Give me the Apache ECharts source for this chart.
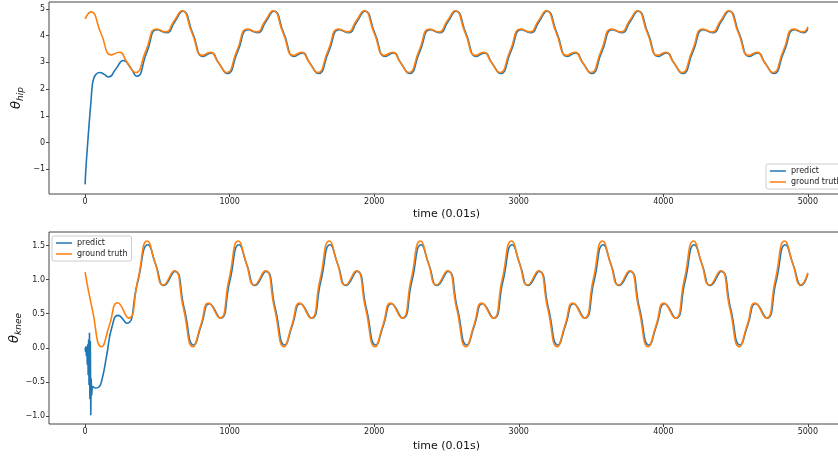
<!DOCTYPE html>
<html><head><meta charset="utf-8">
<script src="https://cdn.jsdelivr.net/npm/echarts@6/dist/echarts.min.js"></script>
<style>html,body{margin:0;padding:0;background:#fff}#c{width:838px;height:457px}</style>
</head><body><div id="c"></div>
<script>
// ---- tick labels ----
const xTicks = [0, 1000, 2000, 3000, 4000, 5000];
const hipTicks = [-1, 0, 1, 2, 3, 4, 5];
const kneeTicks = [-1.0, -0.5, 0.0, 0.5, 1.0, 1.5];
const seriesNames = ['predict', 'ground truth'];

// ---- hip angle (top panel) ----
const hipPredict = [
 [0,-1.57],[5,-1.0],[18,0],[32,1.0],[40,1.5],[47,2.0],[57,2.35],[75,2.55],[100,2.62],[130,2.56],[163,2.45],[212,2.75],[265,3.07],[312,2.82],[357,2.48],[427,3.38],[499,4.22],[561,4.11],[620,4.52],
 [675,4.92],[745,4.08],[818,3.22],[871,3.35],[925,2.97],[984,2.58],[1055,3.4],[1129,4.22],[1191,4.11],[1250,4.52],
 [1305,4.92],[1375,4.08],[1448,3.22],[1501,3.35],[1555,2.97],[1614,2.58],[1685,3.4],[1759,4.22],[1821,4.11],[1880,4.52],
 [1935,4.92],[2005,4.08],[2078,3.22],[2131,3.35],[2185,2.97],[2244,2.58],[2315,3.4],[2389,4.22],[2451,4.11],[2510,4.52],
 [2565,4.92],[2635,4.08],[2708,3.22],[2761,3.35],[2815,2.97],[2874,2.58],[2945,3.4],[3019,4.22],[3081,4.11],[3140,4.52],
 [3195,4.92],[3265,4.08],[3338,3.22],[3391,3.35],[3445,2.97],[3504,2.58],[3575,3.4],[3649,4.22],[3711,4.11],[3770,4.52],
 [3825,4.92],[3895,4.08],[3968,3.22],[4021,3.35],[4075,2.97],[4134,2.58],[4205,3.4],[4279,4.22],[4341,4.11],[4400,4.52],
 [4455,4.92],[4525,4.08],[4598,3.22],[4651,3.35],[4705,2.97],[4764,2.58],[4835,3.4],[4909,4.22],[4971,4.11],[5000,4.28]
];
const hipTruth = [
 [0,4.63],[40,4.89],[110,4.08],[183,3.28],[236,3.38],[290,3.0],[349,2.62],[420,3.43],[494,4.25],[556,4.14],[615,4.55],
 [670,4.93],[740,4.09],[813,3.26],[866,3.38],[920,3.0],[979,2.62],[1050,3.43],[1124,4.25],[1186,4.14],[1245,4.55],
 [1300,4.93],[1370,4.09],[1443,3.26],[1496,3.38],[1550,3.0],[1609,2.62],[1680,3.43],[1754,4.25],[1816,4.14],[1875,4.55],
 [1930,4.93],[2000,4.09],[2073,3.26],[2126,3.38],[2180,3.0],[2239,2.62],[2310,3.43],[2384,4.25],[2446,4.14],[2505,4.55],
 [2560,4.93],[2630,4.09],[2703,3.26],[2756,3.38],[2810,3.0],[2869,2.62],[2940,3.43],[3014,4.25],[3076,4.14],[3135,4.55],
 [3190,4.93],[3260,4.09],[3333,3.26],[3386,3.38],[3440,3.0],[3499,2.62],[3570,3.43],[3644,4.25],[3706,4.14],[3765,4.55],
 [3820,4.93],[3890,4.09],[3963,3.26],[4016,3.38],[4070,3.0],[4129,2.62],[4200,3.43],[4274,4.25],[4336,4.14],[4395,4.55],
 [4450,4.93],[4520,4.09],[4593,3.26],[4646,3.38],[4700,3.0],[4759,2.62],[4830,3.43],[4904,4.25],[4966,4.14],[5000,4.33]
];

// ---- knee angle (bottom panel) ----
const kneePredictStart = [
 [0,0.0],[3,-0.06],[6,0.02],[9,-0.12],[12,-0.02],[15,-0.25],[18,0.05],[21,-0.4],[24,0.12],[27,-0.55],[30,0.22],[33,-0.75],[36,0.1],[39,-0.99],[42,-0.45],[45,-0.7],[50,-0.56]
];
const kneePredict = [
 [50,-0.56],[70,-0.59],[92,-0.58],[115,-0.48],[150,-0.1],[185,0.3],[228,0.475],[288,0.36],[362,0.95],
 [435,1.51],[490,1.21],[546,0.915],[620,1.12],[685,0.58],[751,0.04],[805,0.34],[860,0.645],[936,0.435],[1000,0.97],
 [1065,1.51],[1120,1.21],[1176,0.915],[1250,1.12],[1315,0.58],[1381,0.04],[1435,0.34],[1490,0.645],[1566,0.435],[1630,0.97],
 [1695,1.51],[1750,1.21],[1806,0.915],[1880,1.12],[1945,0.58],[2011,0.04],[2065,0.34],[2120,0.645],[2196,0.435],[2260,0.97],
 [2325,1.51],[2380,1.21],[2436,0.915],[2510,1.12],[2575,0.58],[2641,0.04],[2695,0.34],[2750,0.645],[2826,0.435],[2890,0.97],
 [2955,1.51],[3010,1.21],[3066,0.915],[3140,1.12],[3205,0.58],[3271,0.04],[3325,0.34],[3380,0.645],[3456,0.435],[3520,0.97],
 [3585,1.51],[3640,1.21],[3696,0.915],[3770,1.12],[3835,0.58],[3901,0.04],[3955,0.34],[4010,0.645],[4086,0.435],[4150,0.97],
 [4215,1.51],[4270,1.21],[4326,0.915],[4400,1.12],[4465,0.58],[4531,0.04],[4585,0.34],[4640,0.645],[4716,0.435],[4780,0.97],
 [4845,1.51],[4900,1.21],[4956,0.915],[5000,1.08]
];
const kneeTruth = [
 [0,1.11],[50,0.56],[114,0.015],[168,0.33],[225,0.66],[300,0.435],[365,1.0],
 [430,1.565],[485,1.24],[541,0.92],[615,1.13],[680,0.58],[746,0.015],[800,0.33],[855,0.655],[931,0.435],[995,1.0],
 [1060,1.565],[1115,1.24],[1171,0.92],[1245,1.13],[1310,0.58],[1376,0.015],[1430,0.33],[1485,0.655],[1561,0.435],[1625,1.0],
 [1690,1.565],[1745,1.24],[1801,0.92],[1875,1.13],[1940,0.58],[2006,0.015],[2060,0.33],[2115,0.655],[2191,0.435],[2255,1.0],
 [2320,1.565],[2375,1.24],[2431,0.92],[2505,1.13],[2570,0.58],[2636,0.015],[2690,0.33],[2745,0.655],[2821,0.435],[2885,1.0],
 [2950,1.565],[3005,1.24],[3061,0.92],[3135,1.13],[3200,0.58],[3266,0.015],[3320,0.33],[3375,0.655],[3451,0.435],[3515,1.0],
 [3580,1.565],[3635,1.24],[3691,0.92],[3765,1.13],[3830,0.58],[3896,0.015],[3950,0.33],[4005,0.655],[4081,0.435],[4145,1.0],
 [4210,1.565],[4265,1.24],[4321,0.92],[4395,1.13],[4460,0.58],[4526,0.015],[4580,0.33],[4635,0.655],[4711,0.435],[4775,1.0],
 [4840,1.565],[4895,1.24],[4951,0.92],[5000,1.1]
];

const BLUE = '#1f77b4', ORANGE = '#ff7f0e';
const FONT = 'DejaVu Sans';
const minus = v => (v < 0 ? '\u2212' + String(Math.abs(v)) : String(v));

function xAxisCfg(gi, gap) {
  return {
    type: 'value', gridIndex: gi, min: -250, max: 5250,
    name: 'time (0.01s)', nameLocation: 'middle', nameGap: gap,
    nameTextStyle: { fontFamily: FONT, fontSize: 11, color: '#111' },
    axisLine: { show: false, onZero: false }, splitLine: { show: false },
    axisTick: { show: true, length: 3, customValues: xTicks, lineStyle: { color: '#444' } },
    axisLabel: { customValues: xTicks, fontFamily: FONT, fontSize: 8, color: '#222', margin: 4, formatter: v => String(v) }
  };
}
function yAxisCfg(gi, min, max, ticks, nameRich, fmt, gap) {
  return {
    type: 'value', gridIndex: gi, min: min, max: max,
    name: nameRich, nameLocation: 'middle', nameGap: gap, nameRotate: 90, nameMoveOverlap: false,
    nameTextStyle: {
      fontFamily: FONT, color: '#111',
      rich: {
        t: { fontFamily: FONT, fontSize: 13, fontStyle: 'italic', color: '#111' },
        s: { fontFamily: FONT, fontSize: 9, fontStyle: 'italic', color: '#111', padding: [7, 0, 0, 0] }
      }
    },
    axisLine: { show: false, onZero: false }, splitLine: { show: false },
    axisTick: { show: true, length: 3, customValues: ticks, lineStyle: { color: '#444' } },
    axisLabel: { customValues: ticks, fontFamily: FONT, fontSize: 8, color: '#222', margin: 4, formatter: fmt }
  };
}
function line(name, data, color, xi, smooth) {
  return {
    type: 'line', name: name, data: data, xAxisIndex: xi, yAxisIndex: xi,
    showSymbol: false, symbol: 'none', smooth: smooth, animation: false,
    lineStyle: { color: color, width: 1.6 }, itemStyle: { color: color }
  };
}
function legendCfg(left, top) {
  return {
    data: seriesNames, orient: 'vertical', left: left, top: top,
    icon: 'rect', itemWidth: 16, itemHeight: 1.5, itemGap: 3,
    padding: [3, 4, 3, 4], backgroundColor: '#fff', borderColor: '#ccc', borderWidth: 1, borderRadius: 2,
    textStyle: { fontFamily: FONT, fontSize: 8, color: '#222' }, selectedMode: false
  };
}

const chart = echarts.init(document.getElementById('c'), null, { renderer: 'canvas' });
chart.setOption({
  animation: false,
  backgroundColor: '#fff',
  grid: [
    { left: 49, top: 2, width: 795, height: 192, show: true, borderColor: '#444', borderWidth: 1, backgroundColor: 'transparent', containLabel: false, outerBoundsMode: 'none' },
    { left: 49, top: 232, width: 795, height: 192, show: true, borderColor: '#444', borderWidth: 1, backgroundColor: 'transparent', containLabel: false, outerBoundsMode: 'none' }
  ],
  xAxis: [xAxisCfg(0, 15), xAxisCfg(1, 17)],
  yAxis: [
    yAxisCfg(0, -1.93, 5.26, hipTicks, '{t|θ}{s|hip}', v => minus(v), 24),
    yAxisCfg(1, -1.118, 1.698, kneeTicks, '{t|θ}{s|knee}', v => (v < 0 ? '\u2212' + Math.abs(v).toFixed(1) : v.toFixed(1)), 26)
  ],
  legend: [legendCfg(766, 164), legendCfg(52, 236)],
  series: [
    line('predict', hipPredict, BLUE, 0, 0.55),
    line('ground truth', hipTruth, ORANGE, 0, 0.55),
    line('predict', kneePredictStart, BLUE, 1, false),
    line('predict', kneePredict, BLUE, 1, 0.55),
    line('ground truth', kneeTruth, ORANGE, 1, 0.55)
  ]
});
</script></body></html>
